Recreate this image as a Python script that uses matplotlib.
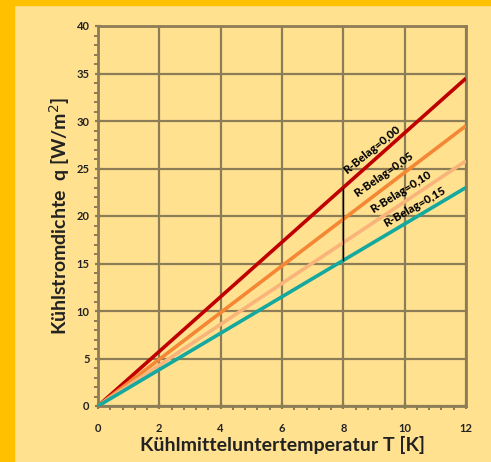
import matplotlib
matplotlib.use("Agg")
import matplotlib.pyplot as plt
from matplotlib.ticker import MultipleLocator
from matplotlib.patches import Rectangle

# Data
temps = [0, 12]
q_r000 = [0, 34.5]
q_r005 = [0, 29.5]
q_r010 = [0, 25.8]
q_r015 = [0, 23.0]
series_labels = ["R-Belag=0,00", "R-Belag=0,05", "R-Belag=0,10", "R-Belag=0,15"]
marker_x = [8, 8]
marker_y = [15.33, 23.0]

colors = ["#C00000", "#F58634", "#F9B47A", "#15A89E"]
label_pos = [(8.12, 24.4), (8.45, 22.0), (8.97, 20.3), (9.40, 18.8)]
label_rot = [39, 35, 32, 30]

plt.rcParams['font.family'] = ['Lato', 'DejaVu Sans']

fig = plt.figure(figsize=(4.91, 4.62), dpi=100)
fig.patch.set_facecolor("#FFE190")
# gold frame strips
fig.patches.append(Rectangle((0, 0), 14/491, 1, transform=fig.transFigure,
                             color="#FFC000", zorder=0))
fig.patches.append(Rectangle((0, 1 - 5/462), 1, 5/462, transform=fig.transFigure,
                             color="#FFC000", zorder=0))

ax = fig.add_axes([98/491, (462-406)/462, (466-98)/491, (406-26)/462])
ax.set_facecolor("#FFE190")

gridc = "#8C7D57"
for s, c in zip([q_r000, q_r005, q_r010, q_r015], colors):
    ax.plot(temps, s, color=c, lw=2.6, solid_capstyle='butt', zorder=3)
ax.plot(marker_x, marker_y, color="black", lw=1, zorder=4)

for (x, y), r, t in zip(label_pos, label_rot, series_labels):
    ax.text(x, y, t, rotation=r, fontsize=8.3, fontweight='black', color='black',
            ha='left', va='baseline', rotation_mode='anchor', zorder=5)

ax.set_xlim(0, 12)
ax.set_ylim(0, 40)
ax.xaxis.set_major_locator(MultipleLocator(2))
ax.xaxis.set_minor_locator(MultipleLocator(0.4))
ax.yaxis.set_major_locator(MultipleLocator(5))
ax.yaxis.set_minor_locator(MultipleLocator(1))
ax.grid(True, which='major', color=gridc, lw=1.6, zorder=1)
for sp in ax.spines.values():
    sp.set_color(gridc)
    sp.set_linewidth(2)
ax.tick_params(which='major', length=5, width=1.6, color=gridc, labelsize=8,
               labelcolor='#222222', direction='inout')
ax.tick_params(which='minor', length=3, width=1.4, color=gridc, direction='out')
ax.tick_params(axis='x', pad=10)
for lab in ax.get_xticklabels() + ax.get_yticklabels():
    lab.set_fontweight('bold')

ax.set_xlabel("Kühlmitteluntertemperatur T [K]", fontsize=14, fontweight='bold',
              color='#222222', labelpad=1)
ax.set_ylabel("Kühlstromdichte  q [W/m$^2$]", fontsize=14, fontweight='bold',
              color='#222222', labelpad=3)

fig.savefig("out.png", dpi=100, facecolor=fig.get_facecolor())
